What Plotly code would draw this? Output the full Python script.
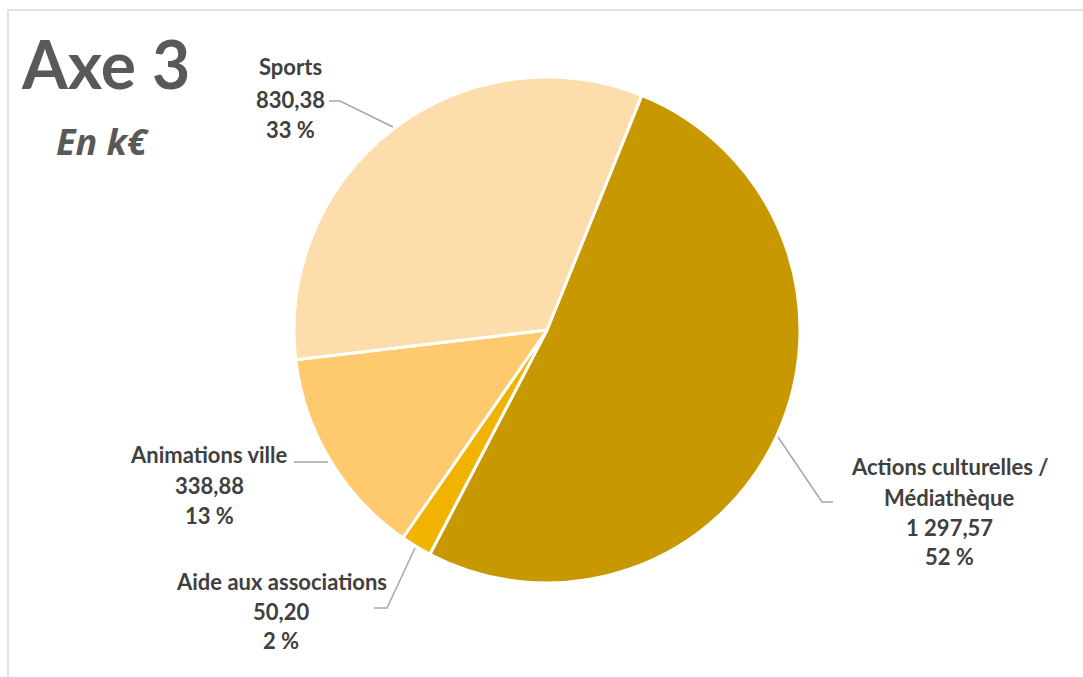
import plotly.graph_objects as go

categories = ["Actions culturelles / Médiathèque", "Aide aux associations", "Animations ville", "Sports"]
values = [1297.57, 50.20, 338.88, 830.38]
value_labels = ["1 297,57", "50,20", "338,88", "830,38"]
colors = ["#C89800", "#F0B400", "#FFCA6E", "#FEDDAD"]

W, H = 1083, 677
total = sum(values)
pcts = [f"{round(v / total * 100)} %" for v in values]

fig = go.Figure(go.Pie(
    labels=categories, values=values, sort=False, direction="clockwise",
    rotation=22, textinfo="none", hoverinfo="label+value+percent",
    marker=dict(colors=colors, line=dict(color="white", width=3)),
    domain=dict(x=[(547 - 253) / W, (547 + 253) / W], y=[(347 - 253) / H, (347 + 253) / H]),
    showlegend=False,
))

def px(x):
    return x / W

def py(y):
    return 1 - y / H

FONT = "Lato"
TXT = "#404040"
annotations = []

def add_lines(cx, ys, lines, size=22):
    for y, t in zip(ys, lines):
        annotations.append(dict(x=px(cx), y=py(y), xref="paper", yref="paper", text=f"<b>{t}</b>",
                                showarrow=False, xanchor="center", yanchor="middle",
                                font=dict(family=FONT, size=size, color=TXT)))

add_lines(949, [467, 497, 527, 556], ["Actions culturelles /", "Médiathèque", value_labels[0], pcts[0]])
add_lines(281, [581, 611, 640], ["Aide aux associations", value_labels[1], pcts[1]])
add_lines(209, [454, 485, 515], ["Animations ville", value_labels[2], pcts[2]])
add_lines(290, [66, 99, 129], ["Sports", value_labels[3], pcts[3]])

annotations.append(dict(x=px(19), y=py(64), xref="paper", yref="paper", text="<b>Axe 3</b>",
                        showarrow=False, xanchor="left", yanchor="middle",
                        font=dict(family=FONT, size=66, color="#595959")))
annotations.append(dict(x=px(54), y=py(141), xref="paper", yref="paper", text="<b><i>En k€</i></b>",
                        showarrow=False, xanchor="left", yanchor="middle",
                        font=dict(family="Open Sans", size=36, color="#595959")))

shapes = []
def path(points):
    d = "M " + " L ".join(f"{px(x)},{py(y)}" for x, y in points)
    shapes.append(dict(type="path", path=d, xref="paper", yref="paper",
                       line=dict(color="#A6A6A6", width=1.5)))

path([(329, 101), (340, 101), (393, 127)])
path([(294, 462), (328, 462)])
path([(415, 548), (387, 608), (374, 608)])
path([(778, 437), (822, 502), (833, 502)])

shapes.append(dict(type="rect", xref="paper", yref="paper", x0=px(8), y0=py(700), x1=px(1100), y1=py(10),
                   line=dict(color="#D9D9D9", width=1.5)))

fig.update_layout(width=W, height=H, margin=dict(l=0, r=0, t=0, b=0),
                  paper_bgcolor="white", plot_bgcolor="white",
                  annotations=annotations, shapes=shapes)
fig.write_html("out.html")
